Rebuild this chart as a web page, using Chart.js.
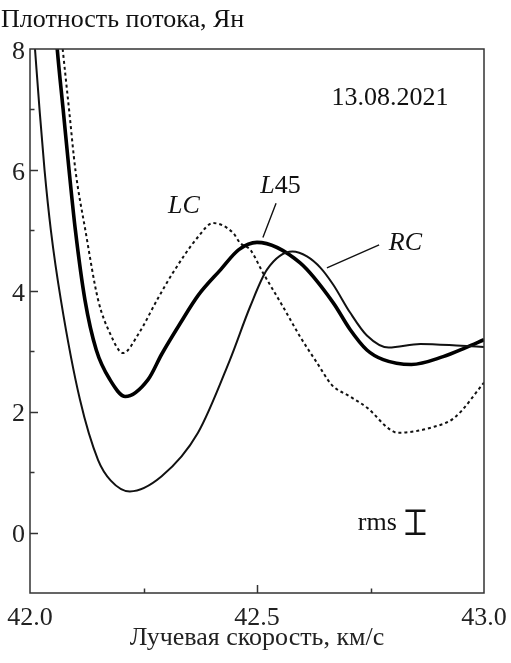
<!DOCTYPE html>
<html lang="ru">
<head>
<meta charset="UTF-8">
<title>Плотность потока</title>
<style>
  html, body { margin: 0; padding: 0; background: #fff; }
  #wrap { width: 511px; height: 663px; }
</style>
</head>
<body>
<div id="wrap"><canvas id="grafico" width="511" height="663"></canvas></div>

<script src="https://cdn.jsdelivr.net/npm/chart.js"></script>
<script>
// dados (km/s, Ян)
const velRC  = [42.008, 42.011, 42.021, 42.032, 42.046, 42.068, 42.11, 42.15, 42.178, 42.22, 42.29, 42.37, 42.44, 42.485, 42.522, 42.578, 42.61, 42.64, 42.668, 42.705, 42.742, 42.79, 42.86, 42.95, 43.0]
const fluxRC = [8.3, 8.0, 7.0, 6.0, 5.0, 3.85, 2.2, 1.2, 0.86, 0.68, 0.93, 1.65, 2.85, 3.74, 4.35, 4.65, 4.57, 4.38, 4.10, 3.64, 3.26, 3.06, 3.12, 3.09, 3.07]

const velL45  = [42.057, 42.060, 42.073, 42.086, 42.100, 42.121, 42.146, 42.176, 42.21, 42.26, 42.29, 42.33, 42.37, 42.42, 42.46, 42.50, 42.595, 42.668, 42.705, 42.742, 42.778, 42.84, 42.91, 42.96, 43.0]
const fluxL45 = [8.3, 8.0, 7.0, 6.0, 5.0, 3.85, 3.02, 2.53, 2.25, 2.53, 2.95, 3.45, 3.92, 4.35, 4.68, 4.80, 4.46, 3.80, 3.36, 3.02, 2.86, 2.78, 2.91, 3.06, 3.19]

const velLC  = [42.068, 42.072, 42.086, 42.100, 42.122, 42.15, 42.176, 42.205, 42.24, 42.28, 42.315, 42.37, 42.403, 42.447, 42.463, 42.485, 42.513, 42.557, 42.595, 42.632, 42.665, 42.705, 42.745, 42.79, 42.81, 42.89, 42.935, 43.0]
const fluxLC = [8.3, 8.0, 7.0, 6.0, 5.0, 3.85, 3.3, 2.97, 3.3, 3.85, 4.3, 4.89, 5.12, 4.96, 4.79, 4.68, 4.30, 3.74, 3.24, 2.81, 2.44, 2.25, 2.05, 1.72, 1.65, 1.75, 1.9, 2.48]

const xLabels = [42.0, 42.5, 43.0]
const yLabels = [0, 2, 4, 6, 8]

const fonte = '"Liberation Serif", "Times New Roman", serif'
const pontos = (xs, ys) => xs.map((x, i) => ({x: x, y: ys[i]}))

// moldura, tracinhos internos e anotacoes
const extras = {
  id: 'extras',
  afterDatasetsDraw(chart) {
    const c = chart.ctx, a = chart.chartArea
    const sx = chart.scales.x, sy = chart.scales.y
    c.save()
    c.strokeStyle = '#333'
    c.lineWidth = 1.5
    c.strokeRect(a.left, a.top, a.right - a.left, a.bottom - a.top)

    // ticks para dentro
    sy.ticks.forEach(t => {
      if (t.value <= -1 || t.value >= 8) return
      const py = Math.round(sy.getPixelForValue(t.value)) + 0.5
      const len = yLabels.includes(t.value) ? 8 : 4.5
      c.beginPath(); c.moveTo(a.left, py); c.lineTo(a.left + len, py); c.stroke()
    })
    sx.ticks.forEach(t => {
      if (t.value <= 42 || t.value >= 43) return
      const px = Math.round(sx.getPixelForValue(t.value)) + 0.5
      const major = xLabels.some(v => Math.abs(v - t.value) < 1e-6)
      c.beginPath(); c.moveTo(px, a.bottom); c.lineTo(px, a.bottom - (major ? 8 : 4.5)); c.stroke()
    })

    c.fillStyle = '#111'
    c.strokeStyle = '#111'
    c.textBaseline = 'alphabetic'
    c.font = '26px ' + fonte
    c.textAlign = 'center'
    c.fillText('13.08.2021', sx.getPixelForValue(42.793), sy.getPixelForValue(7.07))

    c.font = 'italic 26px ' + fonte
    c.fillText('LC', sx.getPixelForValue(42.339), sy.getPixelForValue(5.29))
    c.fillText('RC', sx.getPixelForValue(42.827), sy.getPixelForValue(4.68))

    // L45: L em italico, 45 normal
    c.textAlign = 'left'
    const lx = sx.getPixelForValue(42.507), ly = sy.getPixelForValue(5.62)
    c.fillText('L', lx, ly)
    const wL = c.measureText('L').width
    c.font = '26px ' + fonte
    c.fillText('45', lx + wL, ly)

    c.lineWidth = 1.4
    c.beginPath()
    c.moveTo(sx.getPixelForValue(42.542), sy.getPixelForValue(5.45))
    c.lineTo(sx.getPixelForValue(42.513), sy.getPixelForValue(4.88))
    c.moveTo(sx.getPixelForValue(42.769), sy.getPixelForValue(4.76))
    c.lineTo(sx.getPixelForValue(42.654), sy.getPixelForValue(4.38))
    c.stroke()

    // rms
    c.textAlign = 'right'
    c.fillText('rms', sx.getPixelForValue(42.808), sy.getPixelForValue(0.05))
    const bx = sx.getPixelForValue(42.849)
    const b1 = sy.getPixelForValue(0.36), b2 = sy.getPixelForValue(-0.02)
    c.lineWidth = 2.5
    c.beginPath()
    c.moveTo(bx, b1); c.lineTo(bx, b2)
    c.moveTo(bx - 10, b1); c.lineTo(bx + 10, b1)
    c.moveTo(bx - 10, b2); c.lineTo(bx + 10, b2)
    c.stroke()

    // titulo do eixo y, no topo
    c.textAlign = 'left'
    c.fillText('Плотность потока, Ян', 1, 27)
    c.restore()
  }
}

const ctx = document.getElementById('grafico')

new Chart(ctx, {
  type: 'scatter',
  data: {
    datasets: [
      { label: 'RC', data: pontos(velRC, fluxRC), borderColor: '#111', borderWidth: 2, showLine: true, pointRadius: 0, cubicInterpolationMode: 'monotone' },
      { label: 'L45', data: pontos(velL45, fluxL45), borderColor: '#000', borderWidth: 3.6, showLine: true, pointRadius: 0, cubicInterpolationMode: 'monotone' },
      { label: 'LC', data: pontos(velLC, fluxLC), borderColor: '#111', borderWidth: 2, borderDash: [3, 3], showLine: true, pointRadius: 0, cubicInterpolationMode: 'monotone' }
    ]
  },
  options: {
    responsive: false,
    animation: false,
    layout: { padding: { top: 49, right: 27, left: 0, bottom: 0 } },
    plugins: { legend: { display: false }, tooltip: { enabled: false } },
    scales: {
      x: {
        type: 'linear', min: 42, max: 43,
        afterFit: s => { s.height = 70; s.paddingLeft = 0; s.paddingRight = 0 },
        grid: { display: false, drawTicks: false },
        border: { display: false },
        ticks: {
          stepSize: 0.25, autoSkip: false, maxRotation: 0, padding: 10,
          color: '#222', font: { family: fonte, size: 26 },
          callback: v => xLabels.some(l => Math.abs(l - v) < 1e-6) ? v.toFixed(1) : ''
        },
        title: { display: true, text: 'Лучевая скорость, км/с', color: '#222', font: { family: fonte, size: 26 }, padding: { top: 0, bottom: 9 } }
      },
      y: {
        type: 'linear', min: -1, max: 8,
        afterFit: s => { s.width = 30; s.paddingTop = 0; s.paddingBottom = 0 },
        grid: { display: false, drawTicks: false },
        border: { display: false },
        ticks: {
          stepSize: 1, autoSkip: false, padding: 5, labelOffset: 3,
          color: '#222', font: { family: fonte, size: 26 },
          callback: v => yLabels.includes(v) ? String(v) : ''
        }
      }
    }
  },
  plugins: [extras]
})
</script>
</body>
</html>
